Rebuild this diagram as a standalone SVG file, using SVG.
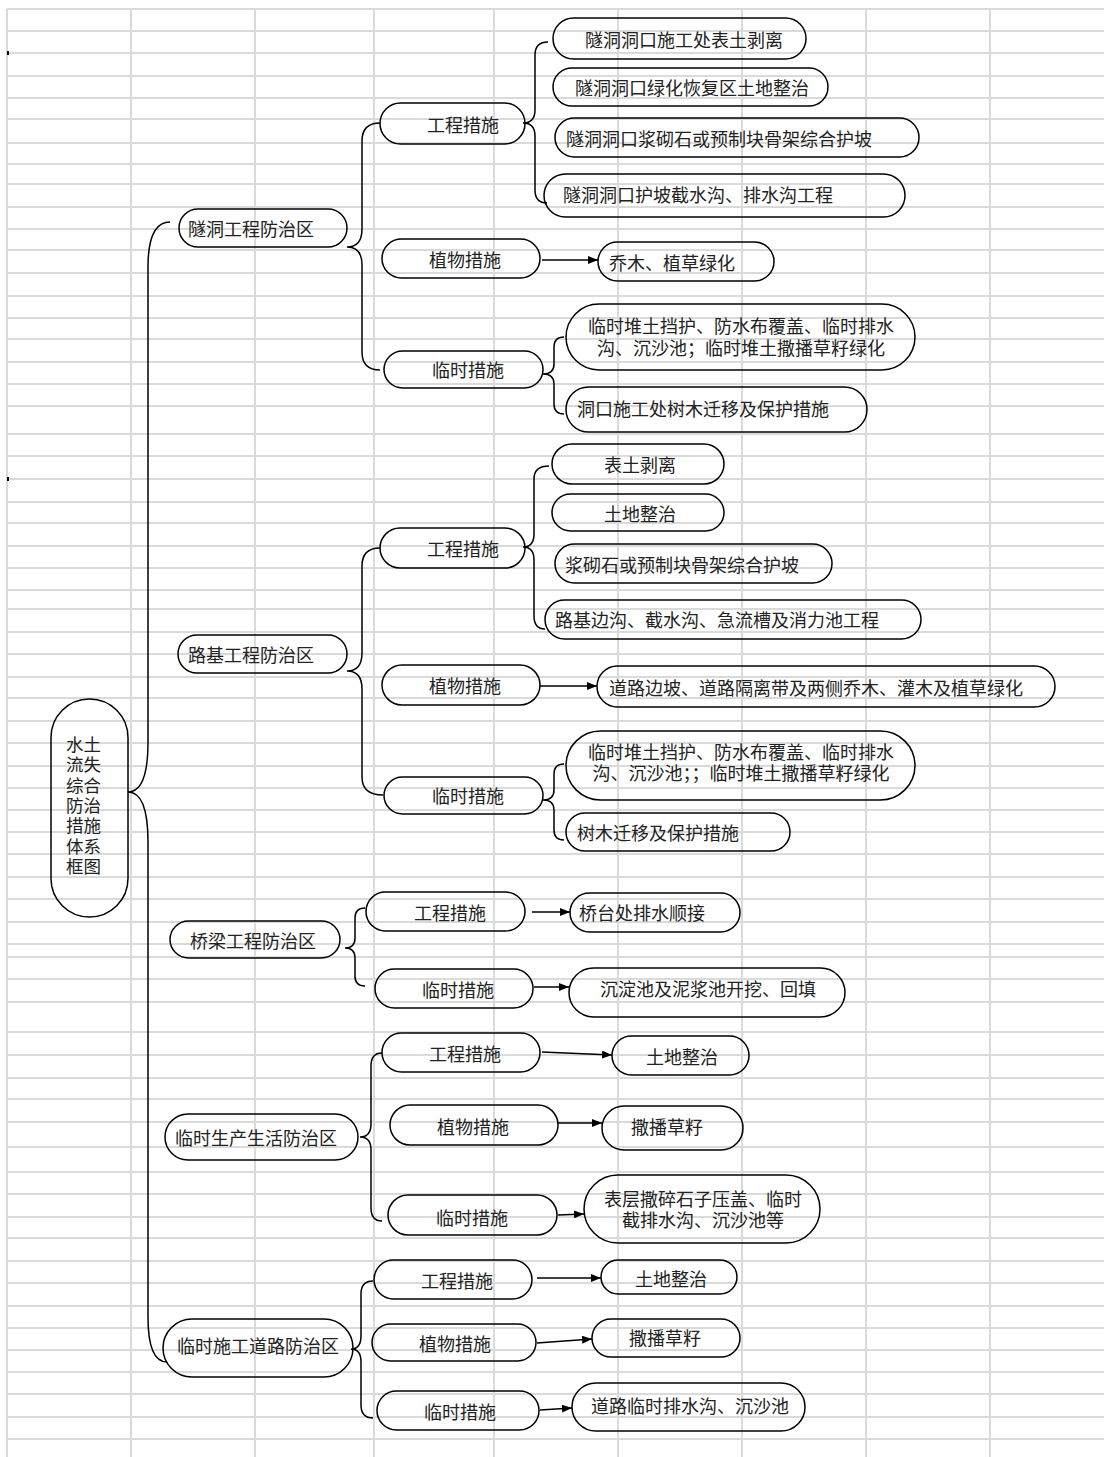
<svg xmlns="http://www.w3.org/2000/svg" width="1104" height="1457" viewBox="0 0 1104 1457">
<style>
.grid{fill:none;stroke:#dadada;stroke-width:2}
.n{fill:none;stroke:#000;stroke-width:1.5}
.c{fill:none;stroke:#000;stroke-width:1.5}
.a{fill:none;stroke:#000;stroke-width:1.5;marker-end:url(#ah)}
text{font-family:"Noto Sans CJK SC","Noto Sans",sans-serif;font-size:18px;fill:#222;dominant-baseline:central}
.m{text-anchor:middle}
.r{font-size:17.5px}
</style>
<defs>
<marker id="ah" markerUnits="userSpaceOnUse" markerWidth="10" markerHeight="8" refX="10" refY="4" orient="auto"><path d="M0,0 L10,4 L0,8 Z" fill="#000"/></marker>
</defs>
<rect width="1104" height="1457" fill="#fff"/>
<g id="grid">
<path class="grid" d="M7 9H1104M7 31H1104M7 53H1104M7 76H1104M7 98H1104M7 119H1104M7 143H1104M7 164H1104M7 184H1104M7 207H1104M7 229H1104M7 250H1104M7 273H1104M7 296H1104M7 318H1104M7 339H1104M7 362H1104M7 384H1104M7 406H1104M7 434H1104M7 456H1104M7 479H1104M7 502H1104M7 523H1104M7 546H1104M7 568H1104M7 590H1104M7 609H1104M7 632H1104M7 654H1104M7 677H1104M7 698H1104M7 721H1104M7 743H1104M7 766H1104M7 788H1104M7 810H1104M7 832H1104M7 854H1104M7 877H1104M7 899H1104M7 922H1104M7 944H1104M7 957H1104M7 979H1104M7 1002H1104M7 1032H1104M7 1055H1104M7 1078H1104M7 1099H1104M7 1122H1104M7 1147H1104M7 1172H1104M7 1194H1104M7 1217H1104M7 1238H1104M7 1261H1104M7 1283H1104M7 1306H1104M7 1328H1104M7 1350H1104M7 1372H1104M7 1394H1104M7 1417H1104M7 1439H1104"/>
<path class="grid" d="M7 9V1457M131 9V1457M255 9V1457M374 9V1457M494 9V1457M618 9V1457M742 9V1457M866 9V1457M990 9V1457"/>
<rect x="7" y="51" width="2" height="4" fill="#000"/>
<rect x="7" y="477" width="2" height="4" fill="#000"/>
</g>
<g id="connectors">
<path class="c" d="M170,222 Q148,222 148,267 L148,742 Q148,792 128,792 Q148,792 148,842 L148,1317 Q148,1362 167,1362"/>
<path class="c" d="M380,123 Q362,123 362,141 L362,229 Q362,247 347,247 Q362,247 362,265 L362,352 Q362,370 380,370"/>
<path class="c" d="M548,42 Q535,42 535,55 L535,110 Q535,123 523,123 Q535,123 535,136 L535,190 Q535,203 547,203"/>
<path class="c" d="M564,337 Q554,337 554,347 L554,364 Q554,374 543,374 Q554,374 554,384 L554,404 Q554,414 564,414"/>
<path class="c" d="M380,548 Q362,548 362,566 L362,653 Q362,671 347,671 Q362,671 362,689 L362,777 Q362,795 383,795"/>
<path class="c" d="M549,466 Q534,466 534,479 L534,534 Q534,547 523,547 Q534,547 534,560 L534,616 Q534,629 545,629"/>
<path class="c" d="M564,764 Q554,764 554,774 L554,790 Q554,800 543,800 Q554,800 554,810 L554,830 Q554,840 564,840"/>
<path class="c" d="M365,908 Q355,908 355,918 L355,938 Q355,948 345,948 Q355,948 355,958 L355,976 Q355,986 365,986"/>
<path class="c" d="M382,1053 Q371,1053 371,1066 L371,1124 Q371,1137 360,1137 Q371,1137 371,1150 L371,1208 Q371,1221 382,1221"/>
<path class="c" d="M373,1281 Q361,1281 361,1294 L361,1336 Q361,1349 351,1349 Q361,1349 361,1362 L361,1405 Q361,1418 373,1418"/>
<path class="a" d="M542,260 L598,260"/>
<path class="a" d="M540,686 L597,686"/>
<path class="a" d="M532,912 L570,912"/>
<path class="a" d="M534,987 L569,987"/>
<path class="a" d="M542,1052 L612,1055"/>
<path class="a" d="M558,1123 L602,1123"/>
<path class="a" d="M558,1215 L584,1214"/>
<path class="a" d="M537,1278 L601,1278"/>
<path class="a" d="M537,1343 L592,1339"/>
<path class="a" d="M540,1410 L572,1408"/>
</g>
<g id="root"><rect class="n" x="51" y="699" width="77" height="218" rx="38.5"/>
<text class="r"><tspan x="66" y="743">水土</tspan><tspan x="66" y="763.3">流失</tspan><tspan x="66" y="783.7">综合</tspan><tspan x="66" y="804">防治</tspan><tspan x="66" y="824.3">措施</tspan><tspan x="66" y="844.7">体系</tspan><tspan x="66" y="865">框图</tspan></text></g>
<g id="s1"><rect class="n" x="179" y="209" width="168" height="38" rx="19"/><text x="188" y="228">隧洞工程防治区</text></g>
<g id="s1-eng"><rect class="n" x="380" y="103" width="145" height="41" rx="20.5"/><text class="m" x="463" y="124">工程措施</text></g>
<g id="s1-e1"><rect class="n" x="553" y="18" width="253" height="41" rx="20.5"/><text x="585" y="39">隧洞洞口施工处表土剥离</text></g>
<g id="s1-e2"><rect class="n" x="553" y="68" width="275" height="38" rx="19"/><text x="575" y="87">隧洞洞口绿化恢复区土地整治</text></g>
<g id="s1-e3"><rect class="n" x="555" y="118" width="364" height="39" rx="19.5"/><text x="566" y="138">隧洞洞口浆砌石或预制块骨架综合护坡</text></g>
<g id="s1-e4"><rect class="n" x="544" y="174" width="361" height="43" rx="21.5"/><text x="563" y="194">隧洞洞口护坡截水沟、排水沟工程</text></g>
<g id="s1-veg"><rect class="n" x="382" y="239" width="158" height="39" rx="19.5"/><text class="m" x="465" y="259">植物措施</text></g>
<g id="s1-v1"><rect class="n" x="598" y="242" width="176" height="39" rx="19.5"/><text x="609" y="262">乔木、植草绿化</text></g>
<g id="s1-tmp"><rect class="n" x="384" y="351" width="159" height="37" rx="18.5"/><text class="m" x="468" y="369">临时措施</text></g>
<g id="s1-t1"><rect class="n" x="566" y="304" width="349" height="66" rx="33"/><text class="m" x="741" y="325">临时堆土挡护、防水布覆盖、临时排水</text><text class="m" x="741" y="347">沟、沉沙池；临时堆土撒播草籽绿化</text></g>
<g id="s1-t2"><rect class="n" x="566" y="387" width="301" height="45" rx="22.5"/><text x="577" y="408">洞口施工处树木迁移及保护措施</text></g>
<g id="s2"><rect class="n" x="178" y="635" width="169" height="38" rx="19"/><text x="188" y="654">路基工程防治区</text></g>
<g id="s2-eng"><rect class="n" x="380" y="528" width="145" height="40" rx="20"/><text class="m" x="463" y="548">工程措施</text></g>
<g id="s2-e1"><rect class="n" x="552" y="444" width="172" height="40" rx="20"/><text class="m" x="640" y="464">表土剥离</text></g>
<g id="s2-e2"><rect class="n" x="552" y="494" width="172" height="37" rx="18.5"/><text class="m" x="640" y="513">土地整治</text></g>
<g id="s2-e3"><rect class="n" x="555" y="544" width="277" height="39" rx="19.5"/><text x="565" y="564">浆砌石或预制块骨架综合护坡</text></g>
<g id="s2-e4"><rect class="n" x="545" y="600" width="376" height="39" rx="19.5"/><text x="555" y="619">路基边沟、截水沟、急流槽及消力池工程</text></g>
<g id="s2-veg"><rect class="n" x="382" y="665" width="158" height="40" rx="20"/><text class="m" x="465" y="685">植物措施</text></g>
<g id="s2-v1"><rect class="n" x="597" y="666" width="458" height="41" rx="20.5"/><text x="609" y="687">道路边坡、道路隔离带及两侧乔木、灌木及植草绿化</text></g>
<g id="s2-tmp"><rect class="n" x="384" y="777" width="159" height="37" rx="18.5"/><text class="m" x="468" y="795">临时措施</text></g>
<g id="s2-t1"><rect class="n" x="566" y="731" width="349" height="69" rx="34.5"/><text class="m" x="741" y="751">临时堆土挡护、防水布覆盖、临时排水</text><text class="m" x="741" y="772">沟、沉沙池；；临时堆土撒播草籽绿化</text></g>
<g id="s2-t2"><rect class="n" x="566" y="813" width="224" height="38" rx="19"/><text x="577" y="832">树木迁移及保护措施</text></g>
<g id="s3"><rect class="n" x="170" y="921" width="170" height="37" rx="18.5"/><text x="190" y="940">桥梁工程防治区</text></g>
<g id="s3-eng"><rect class="n" x="366" y="892" width="159" height="39" rx="19.5"/><text class="m" x="450" y="912">工程措施</text></g>
<g id="s3-e1"><rect class="n" x="570" y="893" width="170" height="39" rx="19.5"/><text x="579" y="912">桥台处排水顺接</text></g>
<g id="s3-tmp"><rect class="n" x="375" y="969" width="158" height="39" rx="19.5"/><text class="m" x="458" y="989">临时措施</text></g>
<g id="s3-t1"><rect class="n" x="569" y="968" width="276" height="49" rx="24.5"/><text class="m" x="708" y="988">沉淀池及泥浆池开挖、回填</text></g>
<g id="s4"><rect class="n" x="165" y="1114" width="193" height="46" rx="23"/><text x="175" y="1137">临时生产生活防治区</text></g>
<g id="s4-eng"><rect class="n" x="382" y="1033" width="158" height="39" rx="19.5"/><text class="m" x="465" y="1053">工程措施</text></g>
<g id="s4-e1"><rect class="n" x="612" y="1036" width="137" height="39" rx="19.5"/><text class="m" x="682" y="1056">土地整治</text></g>
<g id="s4-veg"><rect class="n" x="390" y="1105" width="168" height="40" rx="20"/><text class="m" x="473" y="1126">植物措施</text></g>
<g id="s4-v1"><rect class="n" x="602" y="1106" width="141" height="44" rx="22"/><text class="m" x="667" y="1126">撒播草籽</text></g>
<g id="s4-tmp"><rect class="n" x="388" y="1195" width="169" height="40" rx="20"/><text class="m" x="472" y="1217">临时措施</text></g>
<g id="s4-t1"><rect class="n" x="584" y="1175" width="236" height="68" rx="34"/><text class="m" x="703" y="1198">表层撒碎石子压盖、临时</text><text class="m" x="703" y="1219">截排水沟、沉沙池等</text></g>
<g id="s5"><rect class="n" x="163" y="1319" width="190" height="58" rx="29"/><text x="177" y="1345">临时施工道路防治区</text></g>
<g id="s5-eng"><rect class="n" x="374" y="1260" width="158" height="39" rx="19.5"/><text class="m" x="457" y="1280">工程措施</text></g>
<g id="s5-e1"><rect class="n" x="601" y="1260" width="136" height="34" rx="17"/><text class="m" x="671" y="1278">土地整治</text></g>
<g id="s5-veg"><rect class="n" x="372" y="1324" width="164" height="37" rx="18.5"/><text class="m" x="455" y="1343">植物措施</text></g>
<g id="s5-v1"><rect class="n" x="592" y="1319" width="148" height="38" rx="19"/><text class="m" x="665" y="1337">撒播草籽</text></g>
<g id="s5-tmp"><rect class="n" x="377" y="1391" width="162" height="39" rx="19.5"/><text class="m" x="460" y="1411">临时措施</text></g>
<g id="s5-t1"><rect class="n" x="572" y="1383" width="233" height="48" rx="24"/><text x="591" y="1405">道路临时排水沟、沉沙池</text></g>
</svg>
